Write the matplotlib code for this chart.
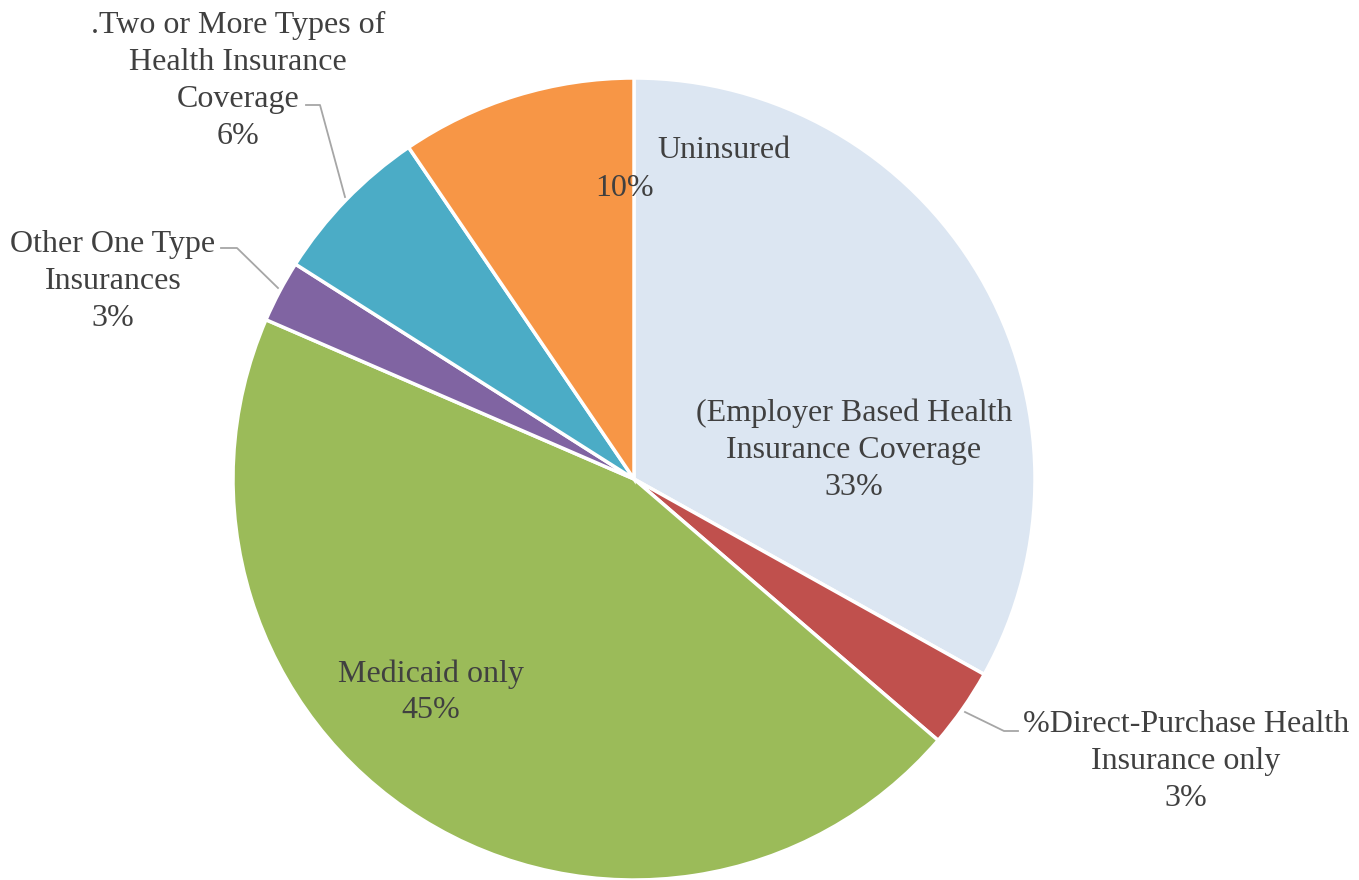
import numpy as np
import matplotlib.pyplot as plt

# Datos del gráfico (en sentido horario desde arriba)
categorias = ['(Employer Based Health\nInsurance Coverage',
              '%Direct-Purchase Health\nInsurance only',
              'Medicaid only',
              'Other One Type\nInsurances',
              '.Two or More Types of\nHealth Insurance\nCoverage',
              'Uninsured']
valores = [33.1, 3.2, 45.2, 2.5, 6.5, 9.5]
etiquetas_pct = ['33%', '3%', '45%', '3%', '6%', '10%']
colores = ['#DCE6F2', '#C0504D', '#9BBB59', '#8064A2', '#4BACC6', '#F79646']

plt.rcParams['font.family'] = ['Liberation Serif', 'DejaVu Serif']
color_texto = '#404040'
color_linea = '#A6A6A6'

# Figura y ejes (1 unidad = radio del pie = 401 px)
fig = plt.figure(figsize=(13.59, 8.8), dpi=100)
ax = fig.add_axes([0, 0, 1, 1])
R = 401.0
cx, cy = 634.0, 479.0

wedges, _ = ax.pie(valores, colors=colores, startangle=90, counterclock=False,
                   radius=1.0, wedgeprops=dict(edgecolor='white', linewidth=2.5))

# Límites después del pie (pie los reinicia)
ax.set_xlim(-cx / R, (1359 - cx) / R)
ax.set_ylim((cy - 880) / R, cy / R)
ax.set_aspect('equal')
ax.axis('off')


def px(x, y):
    # convierte pixeles de la imagen a coordenadas de datos
    return (x - cx) / R, (cy - y) / R


def bloque(lineas, x, y0, ha='center', paso=37):
    # escribe varias líneas de texto, una debajo de otra
    for i, linea in enumerate(lineas):
        xx, yy = px(x, y0 + 3 + i * paso)
        ax.text(xx, yy, linea, ha=ha, va='center', fontsize=23, color=color_texto)


# Etiquetas dentro del pie
bloque(categorias[0].split('\n') + [etiquetas_pct[0]], 854, 410)
bloque(categorias[2].split('\n') + [etiquetas_pct[2]], 431, 671)
bloque([categorias[5]], 657, 147, ha='left')
bloque([etiquetas_pct[5]], 625, 185)

# Etiquetas exteriores con línea guía
bloque(categorias[1].split('\n') + [etiquetas_pct[1]], 1186, 722)
bloque(categorias[3].split('\n') + [etiquetas_pct[3]], 113, 241)
bloque(categorias[4].split('\n') + [etiquetas_pct[4]], 238, 22)

guias = [[(965, 712), (1004, 731), (1018, 731)],
         [(278, 288), (237, 248), (221, 248)],
         [(345, 197), (320, 105), (306, 105)]]
for g in guias:
    xs, ys = zip(*[px(a, b) for a, b in g])
    ax.plot(xs, ys, color=color_linea, linewidth=1.3)

fig.savefig('out.png', dpi=100)
